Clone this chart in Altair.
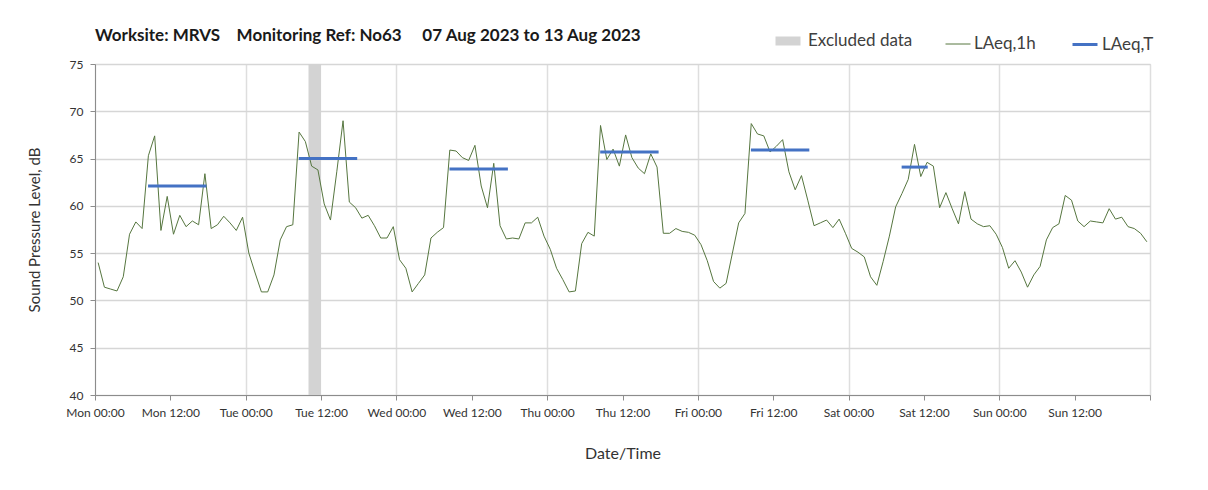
import altair as alt
import pandas as pd

# ---------------- data ----------------
days = ["Mon", "Tue", "Wed", "Thu", "Fri", "Sat", "Sun"]

mon = [54.0, 51.4, 51.2, 51.0, 52.5, 57.0, 58.3, 57.6, 65.3, 67.4, 57.4, 61.0,
       57.0, 59.0, 57.8, 58.4, 58.0, 63.4, 57.6, 58.0, 58.9, 58.2, 57.4, 58.8]
tue = [55.0, 52.9, 50.9, 50.9, 52.7, 56.4, 57.8, 58.0, 67.8, 66.8, 64.2, 63.8,
       60.2, 58.5, 63.6, 69.0, 60.4, 59.8, 58.7, 59.0, 57.9, 56.6, 56.6, 57.8]
wed = [54.3, 53.4, 50.9, 51.8, 52.7, 56.6, 57.2, 57.7, 65.9, 65.8, 65.1, 64.8,
       66.4, 62.1, 59.8, 64.5, 57.9, 56.5, 56.6, 56.5, 58.2, 58.2, 58.8, 56.8]
thu = [55.4, 53.4, 52.2, 50.9, 51.0, 56.0, 57.2, 56.8, 68.5, 64.9, 66.0, 64.2,
       67.5, 65.1, 64.0, 63.4, 65.5, 64.1, 57.1, 57.1, 57.6, 57.3, 57.2, 56.9]
fri = [55.9, 54.2, 52.0, 51.3, 51.8, 55.0, 58.2, 59.2, 68.7, 67.6, 67.4, 65.7,
       66.3, 67.0, 63.6, 61.7, 63.2, 60.6, 57.9, 58.2, 58.5, 57.7, 58.6, 57.1]
sat = [55.5, 55.1, 54.6, 52.5, 51.6, 54.1, 56.8, 59.9, 61.3, 62.8, 66.5, 63.1,
       64.6, 64.2, 59.8, 61.4, 59.7, 58.1, 61.5, 58.6, 58.1, 57.8, 57.9, 57.0]
sun = [55.6, 53.4, 54.2, 53.0, 51.4, 52.7, 53.6, 56.4, 57.7, 58.1, 61.1, 60.6,
       58.4, 57.8, 58.4, 58.3, 58.2, 59.7, 58.6, 58.8, 57.8, 57.6, 57.1, 56.2]

laeq_1h = mon + tue + wed + thu + fri + sat + sun
# sample times: mid-point of each hourly period, hours since Mon 00:00
sample_hour = [i + 0.5 for i in range(len(laeq_1h))]

# LAeq,T periods (day index, start/end hour within the day, level)
period_day = [0, 1, 2, 3, 4, 5]
period_start = [8.45, 8.45, 8.45, 8.45, 8.45, 8.45]
period_end = [17.75, 17.75, 17.75, 17.75, 17.75, 12.6]
laeq_t = [62.1, 65.0, 63.9, 65.7, 65.9, 64.1]

# excluded data window (hours since Mon 00:00)
excl_start = [34.0]
excl_end = [36.0]

series_names = ["Excluded data", "LAeq,1h", "LAeq,T"]
series_colors = ["#d3d3d3", "#56763f", "#4472c4"]
series_widths = [9, 1, 3]   # legend swatch thickness / line width

title_text = ("Worksite: MRVS\u00a0\u00a0\u00a0 Monitoring Ref: No63"
              "\u00a0\u00a0\u00a0\u00a0 07 Aug 2023 to 13 Aug 2023")

# ---------------- frames ----------------
df_1h = pd.DataFrame({"hour": sample_hour, "level": laeq_1h, "series": "LAeq,1h"})
df_t = pd.DataFrame({
    "start": [d * 24 + s for d, s in zip(period_day, period_start)],
    "end": [d * 24 + e for d, e in zip(period_day, period_end)],
    "level": laeq_t,
    "series": "LAeq,T",
})
df_ex = pd.DataFrame({"start": excl_start, "end": excl_end, "series": "Excluded data"})

FONT = "Lato"
x_ticks = list(range(0, 24 * 7 + 1, 12))
day_arr = "[" + ",".join(f"'{d}'" for d in days) + "]"
label_expr = (f"datum.value >= 168 ? '' : {day_arr}[floor(datum.value / 24)] + "
              "(datum.value % 24 == 0 ? ' 00:00' : ' 12:00')")

x_scale = alt.Scale(domain=[0, 168], nice=False, zero=False)
y_scale = alt.Scale(domain=[40, 75], nice=False, zero=False)

x_axis = alt.Axis(
    values=x_ticks, labelExpr=label_expr, title="Date/Time",
    grid=True,
    gridColor={"condition": {"test": "datum.value % 24 === 0", "value": "#dedede"},
               "value": "transparent"},
    gridWidth=1.5, labelOverlap=False, labelFlush=False,
    domainColor="#8c8c8c", tickColor="#8c8c8c", tickSize=5,
    labelFont=FONT, labelFontSize=12, labelColor="#333333", labelPadding=7,
    titleFont=FONT, titleFontSize=16, titleFontWeight="normal", titleColor="#333333",
    titlePadding=27,
)
y_axis = alt.Axis(
    values=list(range(40, 76, 5)), title="Sound Pressure Level, dB",
    grid=True, gridColor="#d6d6d6", gridWidth=1.5,
    domainColor="#8c8c8c", tickColor="#8c8c8c", tickSize=5,
    labelFont=FONT, labelFontSize=12, labelColor="#333333", labelPadding=7,
    titleFont=FONT, titleFontSize=15, titleFontWeight="normal", titleColor="#333333",
    titlePadding=27,
)

legend = alt.Legend(
    title=None, orient="none", legendX=676, legendY=-40, direction="horizontal",
    symbolSize=625, symbolType="stroke", symbolOpacity=1,
    labelFont=FONT, labelFontSize=17, labelColor="#404040",
    labelOffset=3, columnPadding=30,
)
color = alt.Color("series:N", scale=alt.Scale(domain=series_names, range=series_colors),
                  legend=legend)
width_enc = alt.StrokeWidth("series:N",
                            scale=alt.Scale(type="ordinal", domain=series_names,
                                            range=series_widths),
                            legend=legend)

excluded = alt.Chart(df_ex).mark_rect(opacity=1, color=series_colors[0]).encode(
    x=alt.X("start:Q", scale=x_scale, axis=x_axis),
    x2="end:Q",
)
line = alt.Chart(df_1h).mark_line().encode(
    x=alt.X("hour:Q", scale=x_scale, axis=x_axis),
    y=alt.Y("level:Q", scale=y_scale, axis=y_axis),
    color=color,
    strokeWidth=width_enc,
)
rules = alt.Chart(df_t).mark_rule(strokeCap="butt").encode(
    x=alt.X("start:Q", scale=x_scale, axis=x_axis),
    x2="end:Q",
    y=alt.Y("level:Q", scale=y_scale, axis=y_axis),
    color=color,
    strokeWidth=width_enc,
)

chart = alt.layer(excluded, line, rules).properties(
    width=1055, height=331,
    autosize=alt.AutoSizeParams(type="none"),
    padding={"left": 87, "top": 56, "right": 40, "bottom": 70},
    title=alt.TitleParams(title_text, anchor="start", frame="group", font=FONT,
                          fontSize=17, fontWeight="bold", color="#1a1a1a",
                          offset=20, dy=41),
).configure_view(stroke="#b0b0b0", strokeWidth=1.5).configure(background="white")

chart.save("out.html", embed_options={"renderer": "svg", "actions": False})
